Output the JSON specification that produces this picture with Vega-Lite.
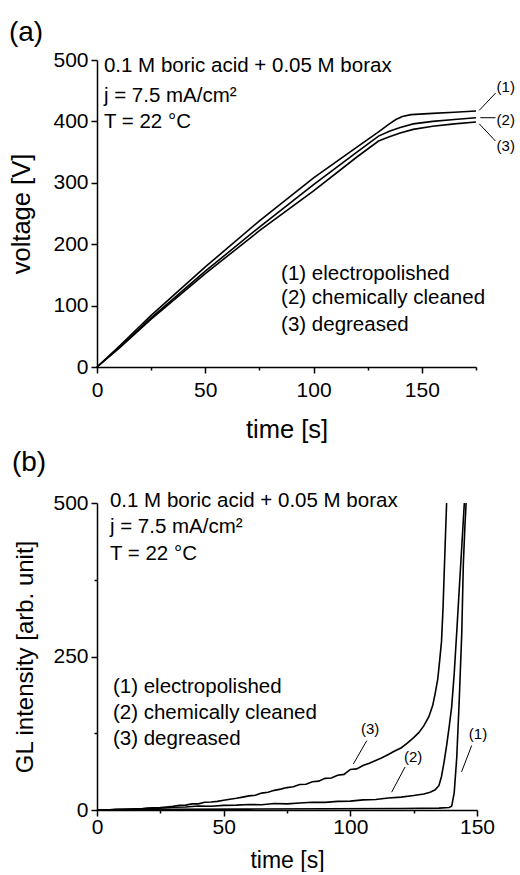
{
  "$schema": "https://vega.github.io/schema/vega-lite/v6.json",
  "padding": {"left": 8, "top": 19, "right": 0, "bottom": 0},
  "spacing": 6,
  "config": {
    "font": "Liberation Sans",
    "view": {"stroke": null},
    "axis": {"domainColor": "black", "domainWidth": 1.5, "tickColor": "black", "tickWidth": 1.5, "labelColor": "black", "titleColor": "black", "labelFont": "Liberation Sans", "titleFont": "Liberation Sans", "labelFontSize": 21, "titleFontSize": 23, "titleFontWeight": "normal", "grid": false, "labelOverlap": false, "labelFlush": false, "labelBound": false},
    "title": {"font": "Liberation Sans", "fontSize": 28, "fontWeight": "normal", "color": "black", "anchor": "start", "frame": "bounds"}
  },
  "datasets": {
    "va": [
      {"t": 0, "v": 0, "s": "1"}, {"t": 10, "v": 33, "s": "1"}, {"t": 25, "v": 84, "s": "1"}, {"t": 50, "v": 163, "s": "1"}, {"t": 75, "v": 238, "s": "1"}, {"t": 100, "v": 308, "s": "1"}, {"t": 120, "v": 358, "s": "1"}, {"t": 130, "v": 383, "s": "1"}, {"t": 135, "v": 396, "s": "1"}, {"t": 138, "v": 403, "s": "1"}, {"t": 141, "v": 408, "s": "1"}, {"t": 145, "v": 411, "s": "1"}, {"t": 155, "v": 413, "s": "1"}, {"t": 165, "v": 415, "s": "1"}, {"t": 175, "v": 417, "s": "1"},
      {"t": 0, "v": 0, "s": "2"}, {"t": 10, "v": 31, "s": "2"}, {"t": 25, "v": 80, "s": "2"}, {"t": 50, "v": 156, "s": "2"}, {"t": 75, "v": 228, "s": "2"}, {"t": 100, "v": 297, "s": "2"}, {"t": 120, "v": 350, "s": "2"}, {"t": 130, "v": 376, "s": "2"}, {"t": 135, "v": 384, "s": "2"}, {"t": 140, "v": 390, "s": "2"}, {"t": 146, "v": 396, "s": "2"}, {"t": 155, "v": 400, "s": "2"}, {"t": 165, "v": 403, "s": "2"}, {"t": 175, "v": 406, "s": "2"},
      {"t": 0, "v": 0, "s": "3"}, {"t": 10, "v": 30, "s": "3"}, {"t": 25, "v": 78, "s": "3"}, {"t": 50, "v": 152, "s": "3"}, {"t": 75, "v": 222, "s": "3"}, {"t": 100, "v": 287, "s": "3"}, {"t": 120, "v": 342, "s": "3"}, {"t": 130, "v": 368, "s": "3"}, {"t": 135, "v": 375, "s": "3"}, {"t": 140, "v": 381, "s": "3"}, {"t": 146, "v": 387, "s": "3"}, {"t": 155, "v": 392, "s": "3"}, {"t": 165, "v": 396, "s": "3"}, {"t": 175, "v": 399, "s": "3"}
    ],
    "gl": [
      {"t": 0, "v": 0, "s": "1"}, {"t": 10, "v": 0.5, "s": "1"}, {"t": 30, "v": 1, "s": "1"}, {"t": 60, "v": 1.5, "s": "1"}, {"t": 90, "v": 2, "s": "1"}, {"t": 120, "v": 2.5, "s": "1"}, {"t": 135, "v": 3, "s": "1"}, {"t": 139, "v": 4, "s": "1"}, {"t": 140, "v": 6, "s": "1"}, {"t": 141, "v": 28, "s": "1"}, {"t": 142, "v": 85, "s": "1"}, {"t": 143, "v": 180, "s": "1"}, {"t": 144, "v": 290, "s": "1"}, {"t": 144.6, "v": 400, "s": "1"}, {"t": 145.2, "v": 460, "s": "1"}, {"t": 145.7, "v": 500, "s": "1"},
      {"t": 0, "v": 0, "s": "2"}, {"t": 5, "v": 0.5, "s": "2"}, {"t": 10, "v": 1, "s": "2"}, {"t": 15, "v": 1.5, "s": "2"}, {"t": 20, "v": 2.5, "s": "2"}, {"t": 25, "v": 3, "s": "2"}, {"t": 30, "v": 4.5, "s": "2"}, {"t": 35, "v": 5, "s": "2"}, {"t": 40, "v": 6.5, "s": "2"}, {"t": 45, "v": 6, "s": "2"}, {"t": 50, "v": 7.5, "s": "2"}, {"t": 55, "v": 8, "s": "2"}, {"t": 60, "v": 9, "s": "2"}, {"t": 65, "v": 8.5, "s": "2"}, {"t": 70, "v": 10.5, "s": "2"}, {"t": 75, "v": 10, "s": "2"}, {"t": 80, "v": 11.5, "s": "2"}, {"t": 85, "v": 12.5, "s": "2"}, {"t": 90, "v": 12.5, "s": "2"}, {"t": 95, "v": 14, "s": "2"}, {"t": 100, "v": 14.5, "s": "2"}, {"t": 105, "v": 16.5, "s": "2"}, {"t": 110, "v": 17, "s": "2"}, {"t": 115, "v": 19.5, "s": "2"}, {"t": 120, "v": 21, "s": "2"}, {"t": 125, "v": 23.5, "s": "2"}, {"t": 129, "v": 26, "s": "2"}, {"t": 131.5, "v": 29, "s": "2"}, {"t": 133.5, "v": 33, "s": "2"}, {"t": 135, "v": 40, "s": "2"}, {"t": 136, "v": 55, "s": "2"}, {"t": 137, "v": 78, "s": "2"}, {"t": 138, "v": 105, "s": "2"}, {"t": 139, "v": 135, "s": "2"}, {"t": 140, "v": 168, "s": "2"}, {"t": 141, "v": 222, "s": "2"}, {"t": 142, "v": 290, "s": "2"}, {"t": 143, "v": 360, "s": "2"}, {"t": 144, "v": 430, "s": "2"}, {"t": 145, "v": 500, "s": "2"},
      {"t": 0, "v": 0, "s": "3"}, {"t": 2.5, "v": 0.5, "s": "3"}, {"t": 5, "v": 0.5, "s": "3"}, {"t": 7.5, "v": 1, "s": "3"}, {"t": 10, "v": 1, "s": "3"}, {"t": 12.5, "v": 1.5, "s": "3"}, {"t": 15, "v": 2, "s": "3"}, {"t": 17.5, "v": 2, "s": "3"}, {"t": 20, "v": 3, "s": "3"}, {"t": 22.5, "v": 3.5, "s": "3"}, {"t": 25, "v": 4, "s": "3"}, {"t": 27.5, "v": 5, "s": "3"}, {"t": 30, "v": 6, "s": "3"}, {"t": 32.5, "v": 7.5, "s": "3"}, {"t": 35, "v": 8, "s": "3"}, {"t": 37.5, "v": 10, "s": "3"}, {"t": 40, "v": 10, "s": "3"}, {"t": 42.5, "v": 12.5, "s": "3"}, {"t": 45, "v": 13, "s": "3"}, {"t": 47.5, "v": 14, "s": "3"}, {"t": 50, "v": 16, "s": "3"}, {"t": 52.5, "v": 17.5, "s": "3"}, {"t": 55, "v": 19, "s": "3"}, {"t": 57.5, "v": 21, "s": "3"}, {"t": 60, "v": 23, "s": "3"}, {"t": 62.5, "v": 24, "s": "3"}, {"t": 65, "v": 27.5, "s": "3"}, {"t": 67.5, "v": 29, "s": "3"}, {"t": 70, "v": 32, "s": "3"}, {"t": 72.5, "v": 34, "s": "3"}, {"t": 75, "v": 36.5, "s": "3"}, {"t": 77.5, "v": 38, "s": "3"}, {"t": 80, "v": 41.5, "s": "3"}, {"t": 82.5, "v": 42, "s": "3"}, {"t": 85, "v": 46, "s": "3"}, {"t": 87.5, "v": 47, "s": "3"}, {"t": 90, "v": 51.5, "s": "3"}, {"t": 92.5, "v": 52, "s": "3"}, {"t": 95, "v": 56.5, "s": "3"}, {"t": 97.5, "v": 58, "s": "3"}, {"t": 100, "v": 66, "s": "3"}, {"t": 102.5, "v": 67, "s": "3"}, {"t": 105, "v": 72.5, "s": "3"}, {"t": 107.5, "v": 76, "s": "3"}, {"t": 110, "v": 80.5, "s": "3"}, {"t": 112.5, "v": 85, "s": "3"}, {"t": 115, "v": 90.5, "s": "3"}, {"t": 117.5, "v": 96, "s": "3"}, {"t": 120, "v": 101, "s": "3"}, {"t": 122.5, "v": 109, "s": "3"}, {"t": 125, "v": 118, "s": "3"}, {"t": 127, "v": 126, "s": "3"}, {"t": 129, "v": 137, "s": "3"}, {"t": 131, "v": 152, "s": "3"}, {"t": 132.5, "v": 170, "s": "3"}, {"t": 133.5, "v": 190, "s": "3"}, {"t": 134.5, "v": 213, "s": "3"}, {"t": 135.3, "v": 245, "s": "3"}, {"t": 136, "v": 275, "s": "3"}, {"t": 136.6, "v": 330, "s": "3"}, {"t": 137, "v": 380, "s": "3"}, {"t": 137.5, "v": 440, "s": "3"}, {"t": 138, "v": 500, "s": "3"}
    ],
    "aInfo": [
      {"t": 3.2, "v": 490, "label": "0.1 M boric acid + 0.05 M borax"},
      {"t": 3.2, "v": 442, "label": "j = 7.5 mA/cm²"},
      {"t": 3.2, "v": 399, "label": "T = 22 °C"},
      {"t": 85, "v": 151, "label": "(1) electropolished"},
      {"t": 85, "v": 112, "label": "(2) chemically cleaned"},
      {"t": 85, "v": 68, "label": "(3) degreased"}
    ],
    "aTags": [
      {"t": 184.5, "v": 456, "label": "(1)"},
      {"t": 184.5, "v": 403, "label": "(2)"},
      {"t": 184.5, "v": 360, "label": "(3)"}
    ],
    "aLead": [
      {"t": 176.5, "v": 418, "t2": 184, "v2": 446},
      {"t": 177, "v": 406, "t2": 184, "v2": 406},
      {"t": 176.5, "v": 396, "t2": 184, "v2": 368}
    ],
    "bInfo": [
      {"t": 5.1, "v": 503, "label": "0.1 M boric acid + 0.05 M borax"},
      {"t": 5.1, "v": 461, "label": "j = 7.5 mA/cm²"},
      {"t": 5.1, "v": 417, "label": "T = 22 °C"},
      {"t": 6.3, "v": 200, "label": "(1) electropolished"},
      {"t": 6.3, "v": 158, "label": "(2) chemically cleaned"},
      {"t": 6.3, "v": 116, "label": "(3) degreased"}
    ],
    "bTags": [
      {"t": 107.8, "v": 132, "label": "(3)"},
      {"t": 124.8, "v": 86, "label": "(2)"},
      {"t": 150.4, "v": 124, "label": "(1)"}
    ],
    "bLead": [
      {"t": 106.5, "v": 113, "t2": 101.2, "v2": 75},
      {"t": 121.6, "v": 70, "t2": 116.3, "v2": 29},
      {"t": 147.9, "v": 105, "t2": 143.9, "v2": 62}
    ]
  },
  "vconcat": [
    {
      "width": 379,
      "height": 307,
      "title": {"text": "(a)", "dx": -1, "offset": 2},
      "layer": [
        {
          "data": {"name": "va"},
          "mark": {"type": "line", "color": "black", "strokeWidth": 1.6},
          "encoding": {
            "x": {"field": "t", "type": "quantitative", "scale": {"domain": [0, 175], "nice": false, "zero": false},
              "axis": {"title": "time [s]", "titleFontSize": 25.5, "values": [0, 25, 50, 75, 100, 125, 150, 175], "labelExpr": "datum.value % 50 === 0 ? datum.label : ''", "tickSize": {"condition": {"test": "datum.value % 50 === 0", "value": 6}, "value": 3}, "labelPadding": 6, "titlePadding": 17}},
            "y": {"field": "v", "type": "quantitative", "scale": {"domain": [0, 500], "nice": false},
              "axis": {"title": "voltage [V]", "titleFontSize": 25.5, "values": [0, 50, 100, 150, 200, 250, 300, 350, 400, 450, 500], "labelExpr": "datum.value % 100 === 0 ? datum.label : ''", "tickSize": {"condition": {"test": "datum.value % 100 === 0", "value": 6}, "value": 3}, "labelPadding": 3, "titlePadding": 18}},
            "detail": {"field": "s"}
          }
        },
        {
          "data": {"name": "aLead"},
          "mark": {"type": "rule", "color": "black", "strokeWidth": 1},
          "encoding": {
            "x": {"field": "t", "type": "quantitative"},
            "y": {"field": "v", "type": "quantitative"},
            "x2": {"field": "t2"},
            "y2": {"field": "v2"}
          }
        },
        {
          "data": {"name": "aInfo"},
          "mark": {"type": "text", "align": "left", "baseline": "middle", "fontSize": 20.5, "color": "black"},
          "encoding": {
            "x": {"field": "t", "type": "quantitative"},
            "y": {"field": "v", "type": "quantitative"},
            "text": {"field": "label"}
          }
        },
        {
          "data": {"name": "aTags"},
          "mark": {"type": "text", "align": "left", "baseline": "middle", "fontSize": 15, "color": "black"},
          "encoding": {
            "x": {"field": "t", "type": "quantitative"},
            "y": {"field": "v", "type": "quantitative"},
            "text": {"field": "label"}
          }
        }
      ]
    },
    {
      "width": 380,
      "height": 307,
      "title": {"text": "(b)", "dx": -2, "offset": 14},
      "layer": [
        {
          "data": {"name": "gl"},
          "mark": {"type": "line", "color": "black", "strokeWidth": 1.6},
          "encoding": {
            "x": {"field": "t", "type": "quantitative", "scale": {"domain": [0, 150], "nice": false, "zero": false},
              "axis": {"title": "time [s]", "values": [0, 25, 50, 75, 100, 125, 150], "labelExpr": "datum.value % 50 === 0 ? datum.label : ''", "tickSize": {"condition": {"test": "datum.value % 50 === 0", "value": 6}, "value": 3}, "labelPadding": 0, "titlePadding": 12}},
            "y": {"field": "v", "type": "quantitative", "scale": {"domain": [0, 500], "nice": false},
              "axis": {"title": "GL intensity [arb. unit]", "titleFontSize": 24, "values": [0, 125, 250, 375, 500], "labelExpr": "datum.value % 250 === 0 ? datum.label : ''", "tickSize": {"condition": {"test": "datum.value % 250 === 0", "value": 6}, "value": 3}, "labelPadding": 3, "titlePadding": 15}},
            "detail": {"field": "s"}
          }
        },
        {
          "data": {"name": "bLead"},
          "mark": {"type": "rule", "color": "black", "strokeWidth": 1},
          "encoding": {
            "x": {"field": "t", "type": "quantitative"},
            "y": {"field": "v", "type": "quantitative"},
            "x2": {"field": "t2"},
            "y2": {"field": "v2"}
          }
        },
        {
          "data": {"name": "bInfo"},
          "mark": {"type": "text", "align": "left", "baseline": "middle", "fontSize": 20.5, "color": "black"},
          "encoding": {
            "x": {"field": "t", "type": "quantitative"},
            "y": {"field": "v", "type": "quantitative"},
            "text": {"field": "label"}
          }
        },
        {
          "data": {"name": "bTags"},
          "mark": {"type": "text", "align": "center", "baseline": "middle", "fontSize": 15, "color": "black"},
          "encoding": {
            "x": {"field": "t", "type": "quantitative"},
            "y": {"field": "v", "type": "quantitative"},
            "text": {"field": "label"}
          }
        }
      ]
    }
  ]
}
